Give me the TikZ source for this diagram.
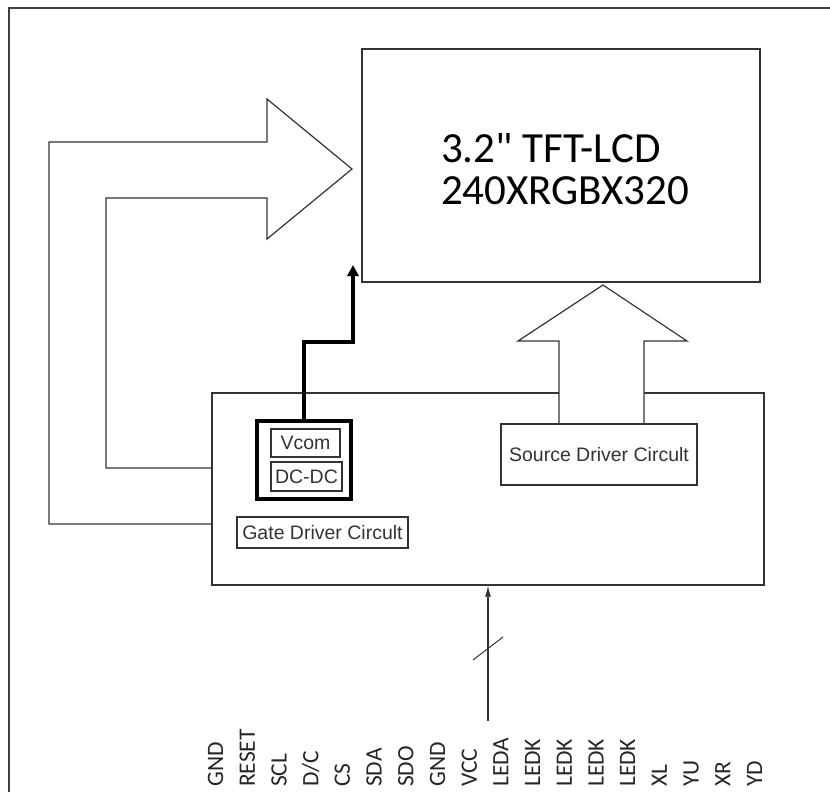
\documentclass[tikz,border=0pt]{standalone}
\usepackage{fontspec}
\setmainfont{Liberation Sans}
\newfontfamily\calib{Carlito}
\usetikzlibrary{arrows.meta,calc}
\definecolor{dark}{HTML}{333333}
\tikzset{
  box/.style={draw=dark, line width=1.2pt, inner sep=0pt, align=center},
  lbl/.style={font=\fontsize{19.5}{21}\selectfont, text=black!80},
  pin/.style={rotate=90, anchor=west, inner sep=0pt, font=\calib\fontsize{23.5}{25}\selectfont, text=black!85},
  bigarrow/.style={draw=dark, line width=1.2pt, line join=miter},
  vline/.style={line width=4pt, draw=black, -{Triangle[length=11pt,width=11pt]}},
  arrow/.style={-{Latex[length=11pt,width=6pt]}, line width=1.2pt, draw=dark}
}
\begin{document}
\begin{tikzpicture}[x=1pt, y=-1pt]
  \useasboundingbox (0,0) rectangle (830,792);
  % frame
  \draw[line width=2pt, draw=black!75] (9,792) -- (9,8) -- (830,8);
  % panel
  \node[box, minimum width=398pt, minimum height=233pt] (lcd) at (561,165.5) {};
  \node[align=left, inner sep=0pt, font=\calib\fontsize{43}{42}\selectfont]
        (title) at ($(lcd.center)+(4,4)$) {3.2" TFT-LCD\\240XRGBX320};
  \node[box, minimum width=552pt, minimum height=192pt] (drv) at (488,489) {};
  % gate arrow
  \draw[bigarrow] (drv.west |- 0,524) -- (49,524) -- (49,142) -- (267,142) -- (267,99)
    -- (352,169) -- (267,239) -- (267,198) -- (106,198) -- (106,468) -- (drv.west |- 0,468);
  % source arrow
  \draw[bigarrow, fill=white] (559,424) -- (559,341) -- (518,341) -- (603,285)
    -- (687,341) -- (644,341) -- (644,424);
  \node[box, lbl, fill=white, minimum width=196pt, minimum height=61pt] (src) at (599,454.5) {Source Driver Circult};
  % vcom block
  \node[box, line width=4pt, draw=black, minimum width=94pt, minimum height=78pt] (pwr) at (304,460) {};
  \node[box, lbl, minimum width=69pt, minimum height=28pt] (vcom) at (305.5,443) {Vcom};
  \node[box, lbl, minimum width=71pt, minimum height=29pt] (dcdc) at (306.5,476.5) {DC-DC};
  \node[box, lbl, minimum width=171pt, minimum height=31pt] (gate) at (322.5,532.5) {Gate Driver Circult};
  \coordinate (vtip) at (353,265);
  \draw[vline] (pwr.north) |- (vtip |- 0,342) -- (vtip);
  % interface
  \coordinate (bus) at (488,721);
  \draw[arrow] (bus) -- (bus |- drv.south);
  \draw[dark, line width=1pt] ($(bus)+(-15,-61)$) -- ($(bus)+(15,-84)$);
  \foreach \p [count=\i from 0] in {GND,RESET,SCL,D/C,CS,SDA,SDO,GND,VCC,LEDA,LEDK,LEDK,LEDK,LEDK,XL,YU,XR,YD}
    \node[pin] (p\i) at ({215.6+31.7*\i},787) {\p};
\end{tikzpicture}
\end{document}
